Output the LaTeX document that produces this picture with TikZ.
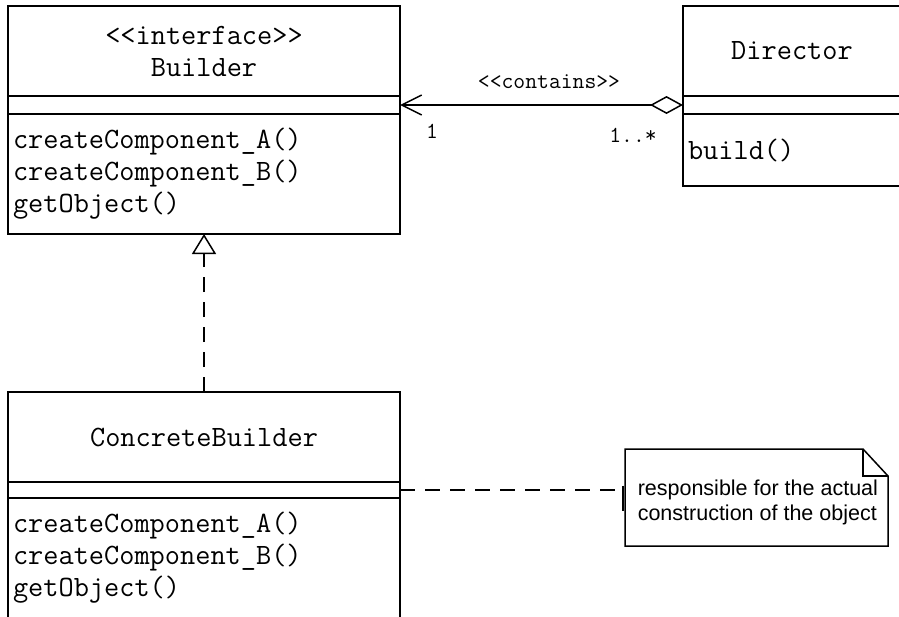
\documentclass[tikz,border=0pt]{standalone}
\usepackage{fontspec}
\setsansfont{Liberation Sans}
\usetikzlibrary{arrows.meta,positioning}

\begin{document}
\begin{tikzpicture}[x=1pt, y=-1pt, line width=1.5pt,
    comp/.style={draw, inner sep=0pt, outer sep=0pt, anchor=north west},
    title/.style={comp, align=center, font=\ttfamily\fontsize{29.5}{32}\selectfont},
    ops/.style={comp, align=left, inner xsep=5pt, font=\ttfamily\fontsize{29.5}{32}\selectfont},
    lbl/.style={inner sep=0pt, font=\ttfamily\fontsize{23}{24}\selectfont},
    dashline/.style={dash pattern=on 15pt off 10pt}]
    \useasboundingbox (0,0) rectangle (899,616);
    \clip (0,0) rectangle (899,616);

    % interface
    \node[title, minimum width=392pt, minimum height=90pt] (builder) at (8,6) {<<interface>>\\Builder};
    \node[comp, minimum width=392pt, minimum height=18pt, below=0pt of builder] (builderattr) {};
    \node[ops, text width=382pt, minimum height=120pt, below=0pt of builderattr] (builderops)
        {createComponent\_A()\\createComponent\_B()\\getObject()};

    % director
    \node[title, minimum width=218pt, minimum height=90pt] (director) at (683,6) {Director};
    \node[comp, minimum width=218pt, minimum height=18pt, below=0pt of director] (directorattr) {};
    \node[ops, text width=208pt, minimum height=72pt, below=0pt of directorattr] (directorops) {build()};

    % concrete builder
    \node[title, minimum width=392pt, minimum height=90pt] (cb) at (8,392) {ConcreteBuilder};
    \node[comp, minimum width=392pt, minimum height=16pt, below=0pt of cb] (cbattr) {};
    \node[ops, text width=382pt, minimum height=120pt, below=0pt of cbattr] (cbops)
        {createComponent\_A()\\createComponent\_B()\\getObject()};

    % note
    \node[inner sep=0pt, outer sep=0pt, minimum width=263pt, minimum height=97pt, anchor=north west] (notebox) at (625,449) {};
    \draw ([xshift=-25pt]notebox.north east) -- (notebox.north west) -- (notebox.south west)
        -- (notebox.south east) -- ([yshift=-27pt]notebox.north east) -- cycle;
    \draw ([xshift=-25pt]notebox.north east) -- ([xshift=-25pt, yshift=-27pt]notebox.north east)
        -- ([yshift=-27pt]notebox.north east);
    \node[anchor=west, inner sep=0pt, align=left, font=\sffamily\fontsize{21.5}{25}\selectfont] (note)
        at ([xshift=12pt, yshift=-5pt]notebox.west) {responsible for the actual\\construction of the object};

    % relations
    \draw[{Straight Barb[length=20pt, width=20pt]}-{Diamond[open, length=33pt, width=18pt]}]
        (builderattr.east) -- (directorattr.west);
    \node[lbl] (contains) at ([xshift=149pt, yshift=23pt]builderattr.east) {<<contains>>};
    \node[lbl] (multone) at ([xshift=32pt, yshift=-26pt]builderattr.east) {1};
    \node[lbl] (multmany) at ([xshift=-50pt, yshift=-30pt]directorattr.west) {1..*};

    \draw[dashline, -{Triangle[open, length=20pt, width=24pt]}] (cb.north) -- (builderops.south);

    \draw[dashline] (cbattr.east) -- (cbattr.east -| notebox.west);
    \draw ([xshift=-2pt, yshift=12pt]notebox.west) -- ([xshift=-2pt, yshift=-13pt]notebox.west);
\end{tikzpicture}
\end{document}
